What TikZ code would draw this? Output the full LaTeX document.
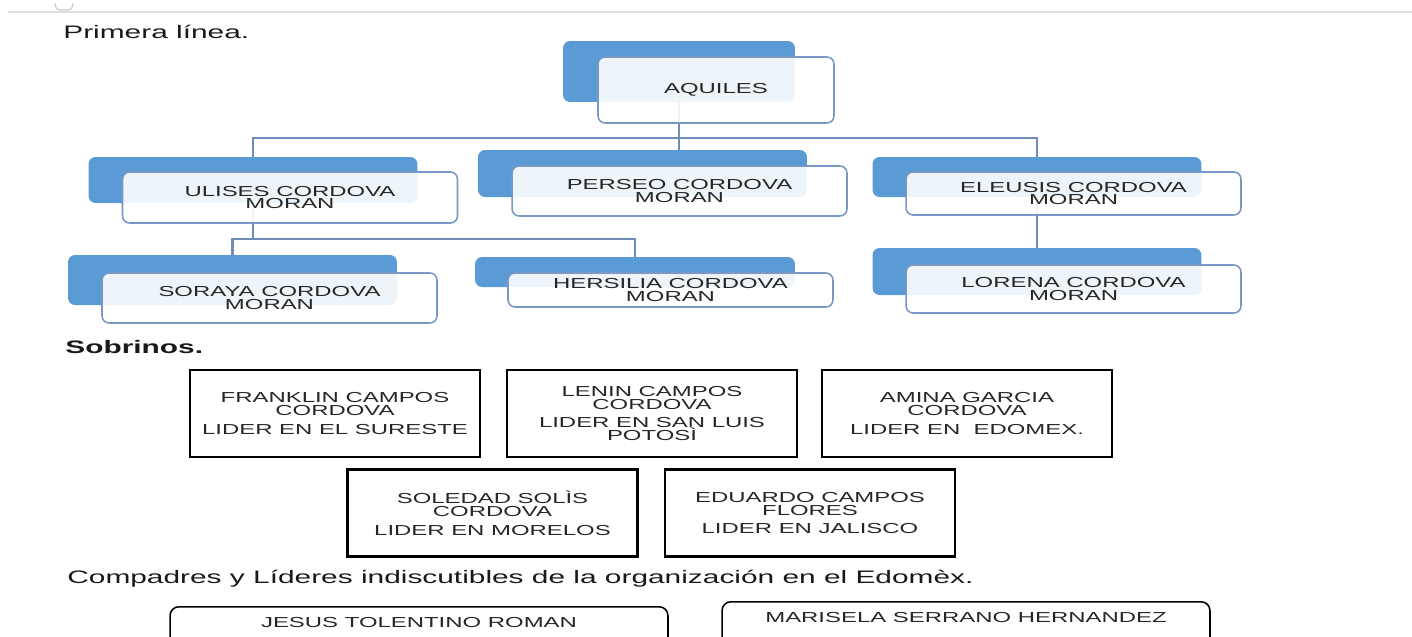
\documentclass[tikz,border=0pt]{standalone}
\usepackage{fontspec}
\setmainfont{Liberation Sans}[FakeStretch=1.65]
\usetikzlibrary{backgrounds}
\definecolor{smartblue}{RGB}{91,155,213}
\definecolor{smartedge}{RGB}{122,152,198}
\definecolor{smartline}{RGB}{112,140,185}
\newcommand\boxfont{\fontsize{8.25}{7}\selectfont}
\newcommand\sobfont{\fontsize{8.25}{7.4}\selectfont}
\newcommand\headfont{\fontsize{10.3}{11}\selectfont}
\begin{document}
\begin{tikzpicture}[x=0.02cm,y=-0.02cm,
        back/.style={fill=smartblue,rounded corners=4pt,minimum width=6.58cm,inner sep=0pt},
        front/.style={draw=smartedge,line width=0.9pt,fill=white,fill opacity=0.9,text opacity=1,rounded corners=4pt,minimum width=6.7cm,inner sep=0pt,align=center,font=\boxfont,text=black!85},
        link/.style={draw=smartline,line width=1.3pt},
        sobrino/.style={draw,line width=1.2pt,minimum width=5.8cm,minimum height=1.74cm,inner sep=0pt,align=center,font=\sobfont,text=black!85},
        compadre/.style={draw,line width=0.9pt,rounded corners=5pt,anchor=north,inner xsep=0pt,inner ysep=0.21cm,text height=0.2cm,text depth=0.6cm,font=\boxfont,text=black!85},
        heading/.style={anchor=base west,inner sep=0pt,font=\headfont,text=black!90}]
    \useasboundingbox (0,0) rectangle (1412,636);
    \clip (0,0) rectangle (1412,636);
    \draw[gray!25,line width=0.8pt] (8,12) -- (1412,12);
    \draw[gray!45,line width=0.6pt] (55,3) to[out=-90,in=180] (60,10) -- (68,10) to[out=0,in=-90] (73,3);

    \node[heading] (primera) at (63,38) {Primera línea.};
    \node[back,minimum width=4.64cm,minimum height=1.22cm] (aquilesB) at (679,71.5) {};
    \node[front,minimum width=4.72cm,minimum height=1.32cm] (aquiles) at (716,90) {AQUILES};
    \node[back,minimum height=0.92cm] (ulisesB) at (253,180) {};
    \node[front,minimum height=1.02cm] (ulises) at (290,197.5) {ULISES CORDOVA\\MORAN};
    \node[back,minimum height=0.94cm] (perseoB) at (642.5,173.5) {};
    \node[front,minimum height=1cm] (perseo) at (679.5,191) {PERSEO CORDOVA\\MORAN};
    \node[back,minimum height=0.8cm] (eleusisB) at (1037,177) {};
    \node[front,minimum height=0.86cm] (eleusis) at (1073.5,193.5) {ELEUSIS CORDOVA\\MORAN};
    \node[back,minimum height=1cm] (sorayaB) at (232.5,280) {};
    \node[front,minimum height=1cm] (soraya) at (269.5,298) {SORAYA CORDOVA\\MORAN};
    \node[back,minimum width=6.4cm,minimum height=0.6cm] (hersiliaB) at (635,272) {};
    \node[front,minimum width=6.5cm,minimum height=0.68cm] (hersilia) at (670.5,290) {HERSILIA CORDOVA\\MORAN};
    \node[back,minimum height=0.94cm] (lorenaB) at (1037,271.5) {};
    \node[front,minimum height=0.96cm] (lorena) at (1073.5,289) {LORENA CORDOVA\\MORAN};

    \coordinate (bus1) at (679,138);
    \coordinate (bus2) at (253,239);
    \begin{pgfonlayer}{background}
        \draw[link] (aquilesB.south) -- (bus1) -- (bus1 |- perseoB.north);
        \draw[link] (ulisesB.north) |- (bus1) -| (eleusisB.north);
        \draw[link] (ulisesB.south) -- (bus2);
        \draw[link] (sorayaB.north) |- (bus2) -| (hersiliaB.north);
        \draw[link] (eleusisB.south) -- (lorenaB.north);
    \end{pgfonlayer}

    \node[heading,font=\headfont\bfseries] (sobrinos) at (65,353) {Sobrinos.};
    \node[sobrino] (franklin) at (335,413.5) {FRANKLIN CAMPOS\\CORDOVA\\[3.4pt]LIDER EN EL SURESTE};
    \node[sobrino] (lenin) at (652,413.5) {LENIN CAMPOS\\CORDOVA\\[3.4pt]LIDER EN SAN LUIS\\POTOSÌ};
    \node[sobrino] (amina) at (967,413.5) {AMINA GARCIA\\CORDOVA\\[3.4pt]LIDER EN\ \ EDOMEX.};
    \node[sobrino] (soledad) at (492.5,513) {SOLEDAD SOLÌS\\CORDOVA\\[3.4pt]LIDER EN MORELOS};
    \node[sobrino] (eduardo) at (810,513) {EDUARDO CAMPOS\\FLORES\\[3.4pt]LIDER EN JALISCO};

    \node[heading] (compadres) at (67,583) {Compadres y Líderes indiscutibles de la organización en el Edomèx.};
    \node[compadre,minimum width=9.96cm] (jesus) at (419,606) {JESUS TOLENTINO ROMAN};
    \node[compadre,minimum width=9.76cm] (marisela) at (966,601) {MARISELA SERRANO HERNANDEZ};
\end{tikzpicture}
\end{document}
